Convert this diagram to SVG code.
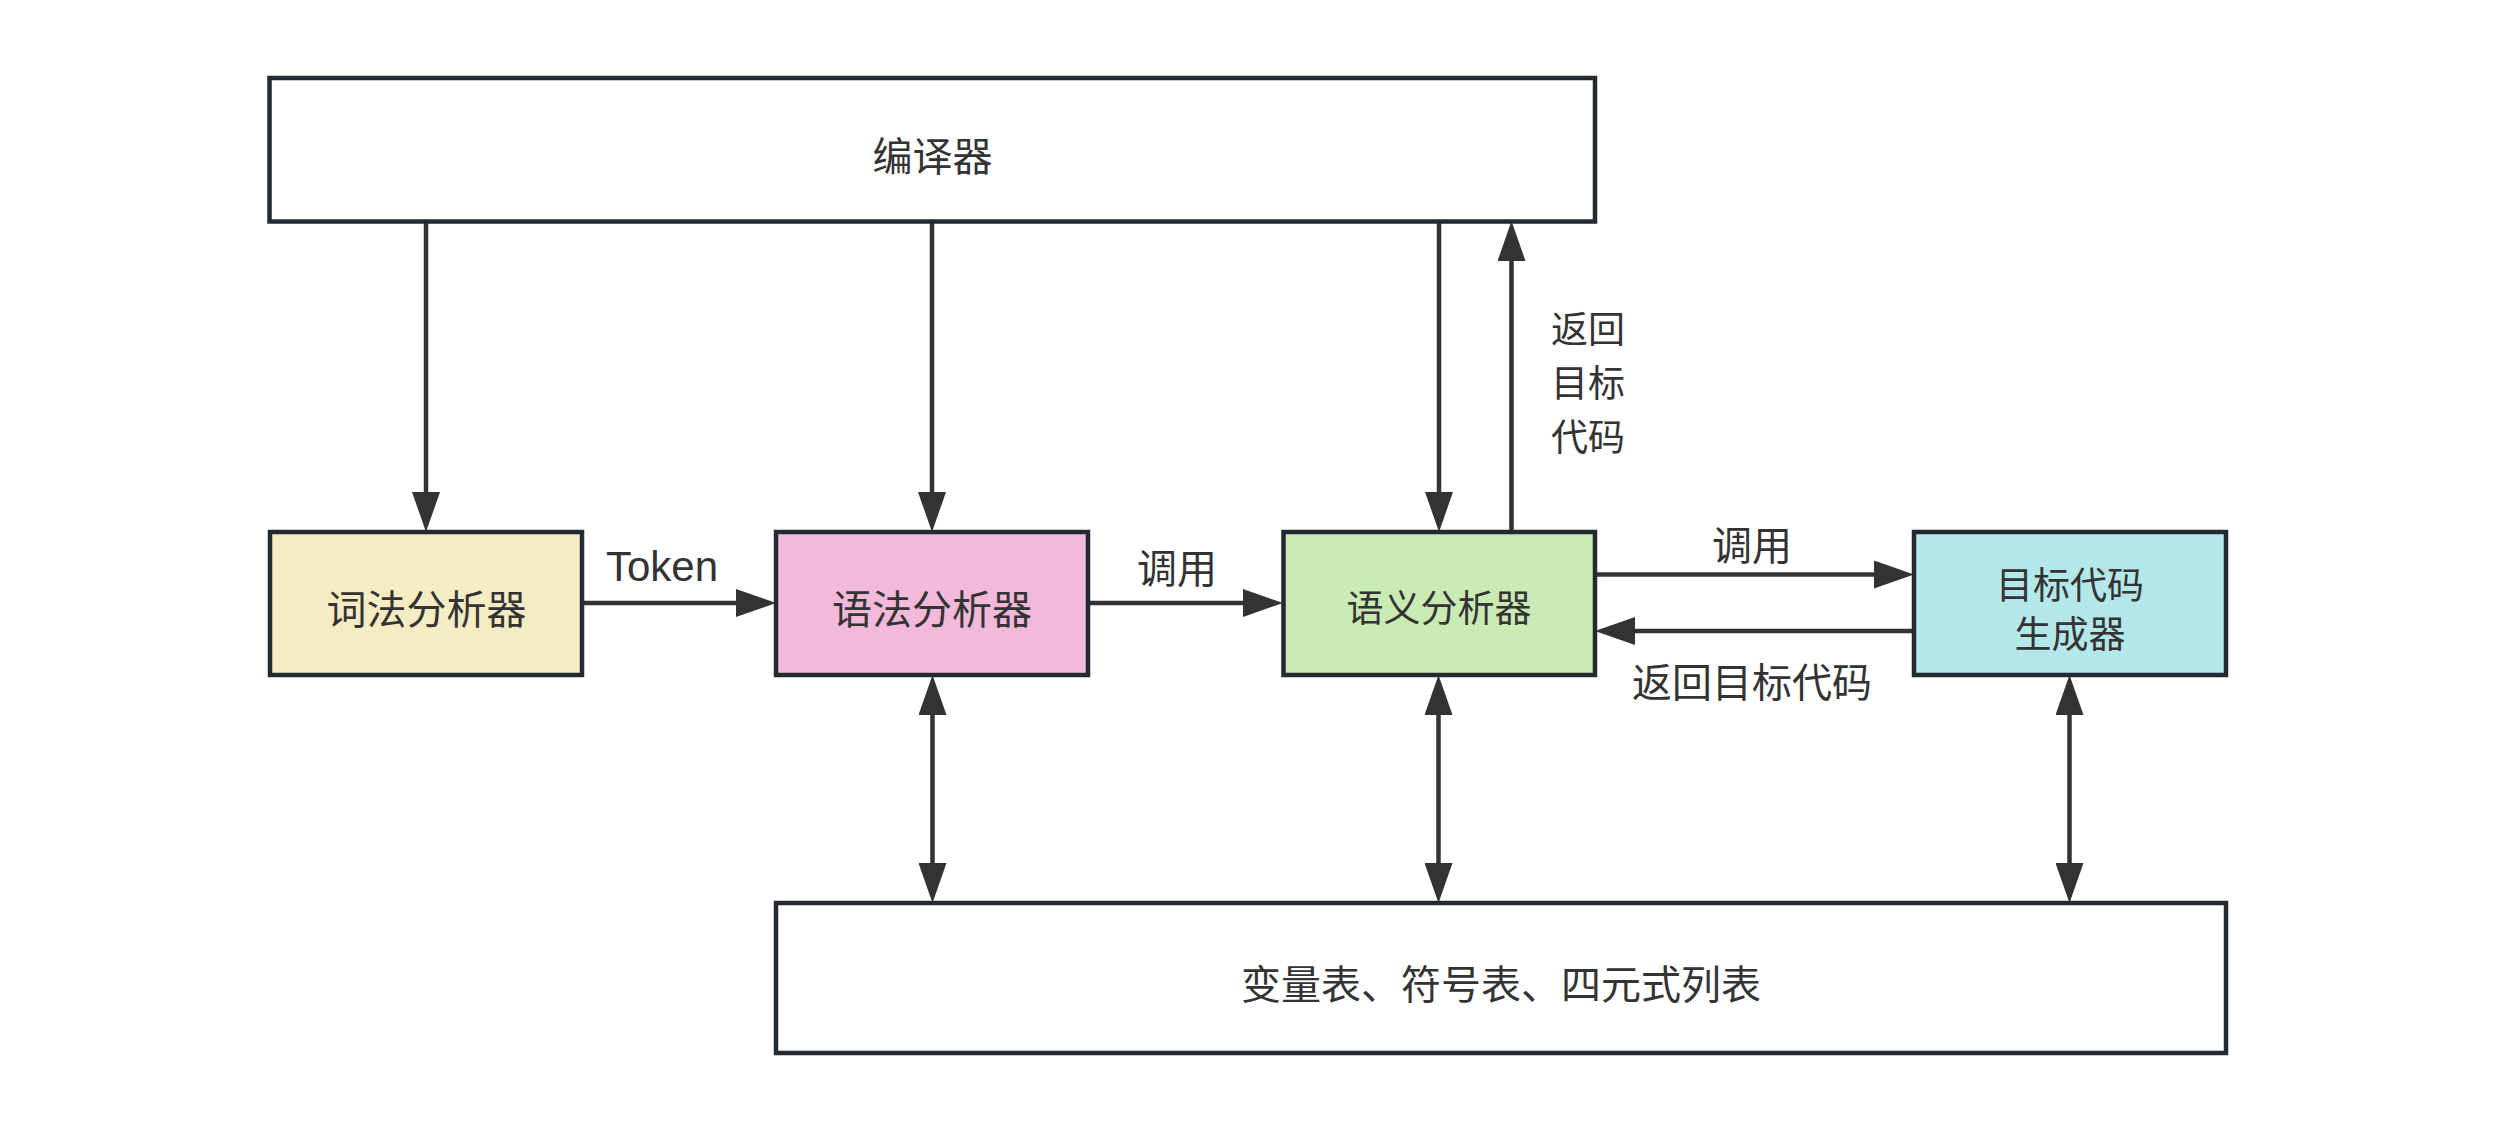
<svg xmlns="http://www.w3.org/2000/svg" width="2500" height="1143" viewBox="0 0 2500 1143">
<style>
.box{stroke:#242a31;stroke-width:4.5}
.t{font-family:"Noto Sans CJK SC","Liberation Sans",sans-serif;fill:#333;text-anchor:middle;dominant-baseline:central}
.lbl{font-size:40px}
.sm{font-size:37px}
.en{font-family:"Liberation Sans","Noto Sans",sans-serif;font-size:42px;fill:#333;text-anchor:middle}
.c{stroke:#333;stroke-width:4.5;fill:none}
.a1{marker-end:url(#ah)}
.a2{marker-end:url(#ah);marker-start:url(#ah)}
</style>
<defs>
<marker id="ah" markerUnits="userSpaceOnUse" markerWidth="40" markerHeight="28" refX="10" refY="14" orient="auto-start-reverse" viewBox="0 0 40 28">
<path d="M0,0 L40,14 L0,28 z" fill="#333"/>
</marker>
</defs>
<rect width="2500" height="1143" fill="#fff"/>
<g id="connectors">
<line class="c a1" x1="426" y1="221" x2="426" y2="502"/>
<line class="c a1" x1="932" y1="221" x2="932" y2="502"/>
<line class="c a1" x1="1439" y1="221" x2="1439" y2="502"/>
<line class="c a1" x1="1511.5" y1="532" x2="1511.5" y2="251"/>
<line class="c a1" x1="582" y1="603" x2="746" y2="603"/>
<line class="c a1" x1="1088" y1="603" x2="1253" y2="603"/>
<line class="c a1" x1="1595" y1="574.5" x2="1884" y2="574.5"/>
<line class="c a1" x1="1914" y1="631" x2="1625" y2="631"/>
<line class="c a2" x1="932.5" y1="705" x2="932.5" y2="873"/>
<line class="c a2" x1="1438.5" y1="705" x2="1438.5" y2="873"/>
<line class="c a2" x1="2069.5" y1="705" x2="2069.5" y2="873"/>
<text class="en" x="662" y="581">Token</text>
<text class="t lbl" x="1177" y="566">调用</text>
<text class="t lbl" x="1752" y="543">调用</text>
<text class="t lbl" x="1752" y="680">返回目标代码</text>
<text class="t sm" x="1588" y="327"><tspan x="1588" y="327">返回</tspan><tspan x="1588" y="381">目标</tspan><tspan x="1588" y="435">代码</tspan></text>
</g>
<g id="compiler">
<rect class="box" x="269.5" y="78" width="1325.5" height="143.5" fill="#fff"/>
<text class="t lbl" x="932.5" y="154">编译器</text>
</g>
<g id="lexer">
<rect class="box" x="270" y="532" width="312" height="143" fill="#f6ecc3"/>
<text class="t lbl" x="426.5" y="606.5">词法分析器</text>
</g>
<g id="parser">
<rect class="box" x="776" y="532" width="312" height="143" fill="#f3b9da"/>
<text class="t lbl" x="932" y="606.5">语法分析器</text>
</g>
<g id="semantic">
<rect class="box" x="1283.5" y="532" width="311.5" height="143" fill="#caeab4"/>
<text class="t sm" x="1439" y="606">语义分析器</text>
</g>
<g id="codegen">
<rect class="box" x="1914" y="532" width="312" height="143" fill="#b4e7ea"/>
<text class="t sm" x="2070" y="582.5"><tspan x="2070" y="582.5">目标代码</tspan><tspan x="2070" y="631.5">生成器</tspan></text>
</g>
<g id="tables">
<rect class="box" x="776" y="903" width="1450" height="150" fill="#fff"/>
<text class="t lbl" x="1501" y="982">变量表、符号表、四元式列表</text>
</g>
</svg>
